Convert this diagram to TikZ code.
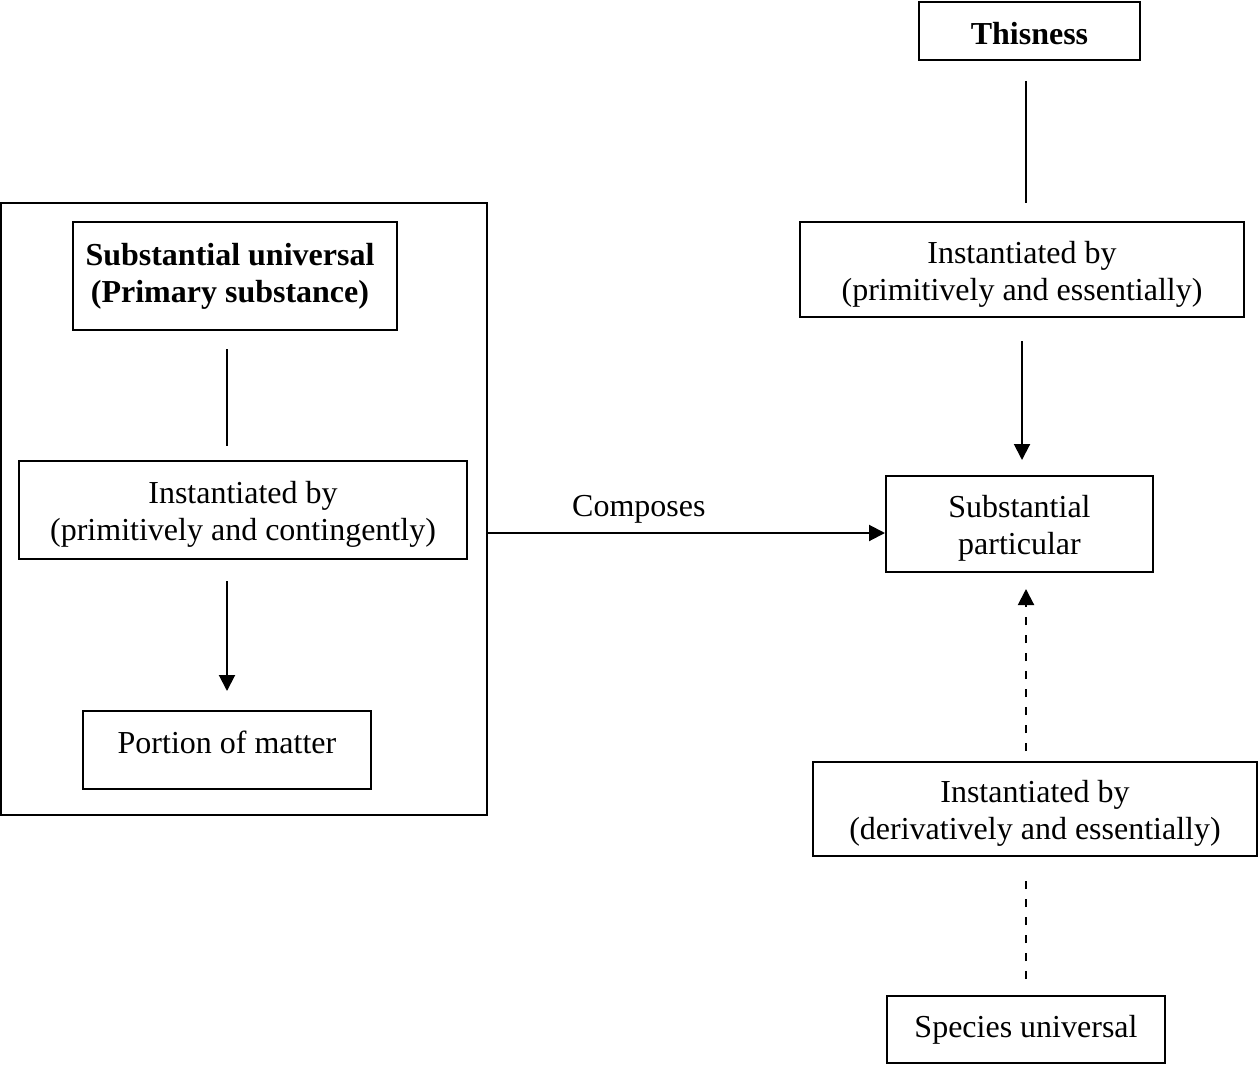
\documentclass[tikz,border=0pt]{standalone}
\usepackage{fontspec}
\setmainfont{Liberation Serif}
\usetikzlibrary{arrows.meta}
\newcommand{\topgap}[1]{\rule{0pt}{#1}}

\begin{document}
\begin{tikzpicture}[x=0.5pt,y=-0.5pt]
\tikzstyle{every node}=[font=\fontsize{16}{18.5}\selectfont]
\tikzstyle{box}=[draw, line width=1pt, align=center, inner sep=0pt]
\tikzstyle{link}=[line width=1pt]
\tikzstyle{arrow}=[line width=1pt, -{Triangle[width=8pt,length=8pt]}]
\tikzstyle{dashlink}=[line width=1pt, dash pattern=on 4pt off 5pt]

% fix the page size
\useasboundingbox (0,0) rectangle (1258,1065);

% left frame
\node[box, minimum width=243pt, minimum height=306pt] (frame) at (244,509) {};

% draw boxes
\node[box, minimum width=110.5pt, minimum height=29pt] (thisness) at (1029.5,31) {\topgap{13.5pt}\textbf{Thisness}};
\node[box, minimum width=162pt, minimum height=54pt] (univ) at (235,276) {\hspace*{-5pt}\textbf{Substantial universal}\\\hspace*{-5pt}\textbf{(Primary substance)}};
\node[box, minimum width=224pt, minimum height=49pt] (inst1) at (243,510) {\topgap{15.5pt}Instantiated by\\(primitively and contingently)};
\node[box, minimum width=144pt, minimum height=39pt] (matter) at (227,750) {Portion of matter\\[-11pt]};
\node[box, minimum width=222pt, minimum height=47.5pt] (inst2) at (1022,269.5) {\topgap{15.5pt}Instantiated by\\(primitively and essentially)};
\node[box, minimum width=133.5pt, minimum height=48pt] (part) at (1019.5,524) {\topgap{15.5pt}Substantial\\particular};
\node[box, minimum width=222pt, minimum height=47pt] (inst3) at (1035,809) {\topgap{15.5pt}Instantiated by\\(derivatively and essentially)};
\node[box, minimum width=139pt, minimum height=33.5pt] (species) at (1026,1029.5) {Species universal};

% left column
\draw[link, shorten <=9pt, shorten >=7pt] (univ.south -| matter) -- (inst1.north -| matter);
\draw[arrow, shorten <=10.5pt, shorten >=9.5pt] (inst1.south -| matter) -- (matter.north);

% composes
\draw[arrow] ([yshift=-12pt]frame.east) -- node[above=1pt, pos=0.38] {Composes} ([yshift=-4.5pt]part.west);

% right column
\draw[link, shorten <=10pt, shorten >=9pt] (thisness.south -| species) -- (inst2.north -| species);
\draw[arrow, shorten <=11.5pt, shorten >=7.5pt] (inst2.south) -- (part.north -| inst2);
\draw[dashlink, -{Triangle[width=8pt,length=8pt]}, shorten <=5pt, shorten >=8pt] (inst3.north -| species) -- (part.south -| species);
\draw[dashlink, shorten <=8pt, shorten >=9.5pt] (species.north) -- (inst3.south -| species);

\end{tikzpicture}
\end{document}
